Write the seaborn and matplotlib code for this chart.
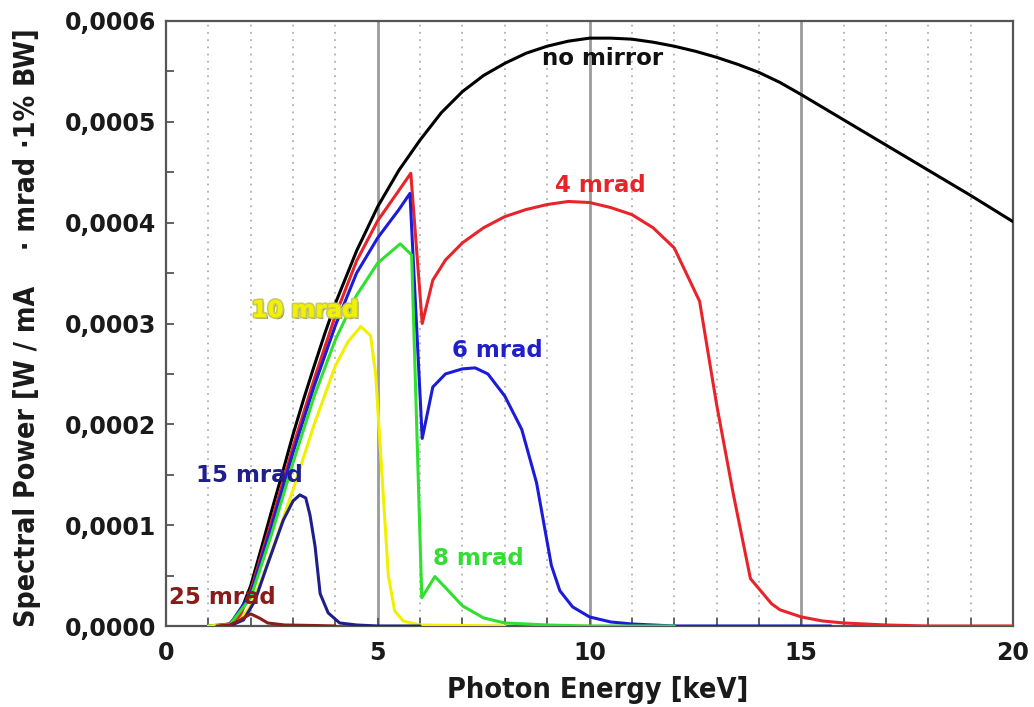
import numpy as np
import pandas as pd
import matplotlib
matplotlib.use("Agg")
import matplotlib.pyplot as plt
import matplotlib.patheffects as pe
from matplotlib.ticker import FuncFormatter, MultipleLocator
import seaborn as sns

# ---------------- data ----------------
E_nomirror = [1.0, 1.25, 1.5, 1.75, 2.0, 2.25, 2.5, 2.75, 3.0, 3.25, 3.5, 3.75, 4.0, 4.5, 5.0, 5.5,
              6.0, 6.5, 7.0, 7.5, 8.0, 8.5, 9.0, 9.5, 10.0, 10.5, 11.0, 11.5, 12.0, 12.5, 13.0, 13.5,
              14.0, 14.5, 15.0, 16.0, 17.0, 18.0, 19.0, 20.0]
P_nomirror = [0.0, 0.0000005, 0.000002, 0.000013, 0.000040, 0.000077, 0.000115, 0.000152, 0.000190,
              0.000225, 0.000258, 0.000290, 0.000320, 0.000372, 0.000416, 0.000452,
              0.000482, 0.000509, 0.000530, 0.000546, 0.000558, 0.000568, 0.000575, 0.000580, 0.000583,
              0.000583, 0.000582, 0.000579, 0.000575, 0.000570, 0.000564, 0.000557,
              0.000549, 0.000539, 0.000527, 0.000502, 0.000477, 0.000452, 0.000427, 0.000401]

E_4mrad = [1.0, 1.5, 1.75, 2.0, 2.5, 3.0, 3.5, 4.0, 4.5, 5.0, 5.5, 5.78, 6.05, 6.3, 6.6, 7.0, 7.5, 8.0,
           8.5, 9.0, 9.5, 10.0, 10.5, 11.0, 11.5, 12.0, 12.6, 13.0, 13.4, 13.8, 14.3, 14.5, 15.0, 15.5,
           16.0, 17.0, 18.0, 20.0]
P_4mrad = [0.0, 0.000002, 0.000010, 0.000035, 0.000105, 0.000178, 0.000245, 0.000308, 0.000362, 0.000402,
           0.000432, 0.000449, 0.000300, 0.000343, 0.000363, 0.000380, 0.000395, 0.000406,
           0.000413, 0.000418, 0.000421, 0.000420, 0.000415, 0.000408, 0.000395, 0.000375, 0.000322,
           0.000220, 0.000130, 0.000047, 0.000022, 0.000016, 0.000009, 0.000005,
           0.000003, 0.000001, 0.0, 0.0]

E_6mrad = [1.0, 1.5, 2.0, 2.5, 3.0, 3.5, 4.0, 4.5, 5.0, 5.5, 5.76, 6.05, 6.3, 6.6, 7.0, 7.3, 7.6, 8.0,
           8.4, 8.75, 9.1, 9.3, 9.6, 10.0, 10.5, 11.0, 11.5, 12.0, 15.7]
P_6mrad = [0.0, 0.000001, 0.000032, 0.000100, 0.000172, 0.000238, 0.000298, 0.000350, 0.000385, 0.000413,
           0.000429, 0.000186, 0.000237, 0.000250, 0.000255, 0.000256, 0.000250, 0.000228,
           0.000195, 0.000142, 0.000060, 0.000035, 0.000019, 0.000009, 0.000004, 0.000002, 0.000001,
           0.0, 0.0]

E_8mrad = [1.0, 1.5, 2.0, 2.5, 3.0, 3.5, 4.0, 4.5, 5.0, 5.53, 5.8, 6.04, 6.35, 6.6, 7.0, 7.5, 8.0, 9.0,
           10.0, 12.0]
P_8mrad = [0.0, 0.000001, 0.000028, 0.000092, 0.000162, 0.000228, 0.000284, 0.000328, 0.000360, 0.000379,
           0.000368, 0.000028, 0.000049, 0.000038, 0.000020, 0.000008, 0.000003, 0.000001, 0.0, 0.0]

E_10mrad = [1.0, 1.5, 1.75, 2.0, 2.25, 2.5, 3.0, 3.5, 4.0, 4.3, 4.6, 4.83, 4.95, 5.1, 5.25, 5.4, 5.6,
            6.0, 8.0]
P_10mrad = [0.0, 0.000001, 0.000006, 0.000020, 0.000045, 0.000074, 0.000135, 0.000200, 0.000258, 0.000282,
            0.000297, 0.000288, 0.000250, 0.000150, 0.000050, 0.000015, 0.000005, 0.000001, 0.0]

E_15mrad = [1.5, 1.83, 2.1, 2.38, 2.77, 3.0, 3.16, 3.3, 3.4, 3.52, 3.64, 3.83, 4.1, 4.5, 5.0, 6.0]
P_15mrad = [0.0, 0.000006, 0.000025, 0.000059, 0.000105, 0.000124, 0.000130, 0.000127, 0.000110,
            0.000079, 0.000032, 0.000013, 0.000003, 0.000001, 0.0, 0.0]

E_25mrad = [1.2, 1.5, 1.75, 2.0, 2.2, 2.4, 2.8, 3.5, 4.0]
P_25mrad = [0.0, 0.000001, 0.000006, 0.000012, 0.000008, 0.000003, 0.000001, 0.0000005, 0.0]

series_names = ["no mirror", "4 mrad", "6 mrad", "8 mrad", "10 mrad", "15 mrad", "25 mrad"]
series_E = [E_nomirror, E_4mrad, E_6mrad, E_8mrad, E_10mrad, E_15mrad, E_25mrad]
series_P = [P_nomirror, P_4mrad, P_6mrad, P_8mrad, P_10mrad, P_15mrad, P_25mrad]
line_colors = ["#000000", "#e8242a", "#1c1cd8", "#2fe02f", "#f0f000", "#1f1f8c", "#8c1c1c"]

# label positions (data coords) and colours
label_E = [10.32, 10.25, 7.82, 7.37, 3.28, 1.98, 1.32]
label_P = [0.000563, 0.000437, 0.000273, 0.0000674, 0.000313, 0.000149, 0.0000278]
label_colors = ["#111111", "#e8242a", "#2020c8", "#33dd33", "#f2f200", "#1f1f8c", "#8b1a1a"]

x_ticks = [0, 5, 10, 15, 20]
y_ticks = [0.0, 0.0001, 0.0002, 0.0003, 0.0004, 0.0005, 0.0006]

# ---------------- figure ----------------
sns.set_theme(style="white")
plt.rcParams["font.family"] = ["DejaVu Sans"]

fig = plt.figure(figsize=(10.34, 7.07), dpi=100)
ax = fig.add_axes([166 / 1034, 1 - 626 / 707, 847 / 1034, 605 / 707])

# grid lines: dotted every keV, solid at 5,10,15
for xv in range(1, 20):
    if xv % 5 == 0:
        ax.axvline(xv, color="#9a9a9a", lw=2.0, zorder=0.5)
    else:
        ax.axvline(xv, color="#b0b0b0", lw=1.3, ls=(0, (1, 3)), zorder=0.5)

frames = []
for name, es, ps in zip(series_names, series_E, series_P):
    frames.append(pd.DataFrame({"E": es, "P": ps, "series": name}))
df = pd.concat(frames, ignore_index=True)

sns.lineplot(data=df, x="E", y="P", hue="series", hue_order=series_names,
             palette=dict(zip(series_names, line_colors)), estimator=None, sort=False,
             lw=2.2, ax=ax, legend=False, zorder=3)

for name, xe, yp, c in zip(series_names, label_E, label_P, label_colors):
    t = ax.text(xe, yp, name, color=c, fontsize=16.5, fontweight="bold",
                ha="center", va="center", zorder=5)
    if name == "10 mrad":
        t.set_path_effects([pe.withSimplePatchShadow(offset=(1.5, -1.5), shadow_rgbFace="#6a6a20", alpha=0.7),
                            pe.withStroke(linewidth=2.5, foreground="#c8c860"), pe.Normal()])
    if name == "no mirror":
        t.set_fontweight("semibold")

ax.set_xlim(0, 20)
ax.set_ylim(0, 0.0006)
ax.set_xticks(x_ticks)
ax.set_yticks(y_ticks)
ax.xaxis.set_minor_locator(MultipleLocator(1))
ax.yaxis.set_minor_locator(MultipleLocator(0.00005))
ax.yaxis.set_major_formatter(FuncFormatter(lambda v, p: f"{v:.4f}".replace(".", ",")))
ax.xaxis.set_major_formatter(FuncFormatter(lambda v, p: f"{v:g}"))

ax.tick_params(axis="both", which="both", direction="in", length=6, width=1.3, color="#555555",
               bottom=True, left=True, top=False, right=False)
ax.tick_params(axis="x", which="major", pad=11, labelsize=17)
ax.tick_params(axis="y", which="major", pad=7, labelsize=17)
for lab in ax.get_xticklabels() + ax.get_yticklabels():
    lab.set_fontweight("bold")
    lab.set_color("#1a1a1a")

for s in ax.spines.values():
    s.set_visible(True)
    s.set_color("#555555")
    s.set_linewidth(1.6)

ax.set_xlabel("Photon Energy [keV]", fontsize=20.7, fontweight="bold", color="#1a1a1a",
              fontstretch="condensed", va="center")
ax.xaxis.set_label_coords((598 - 166) / 847, (626 - 690) / 605)
ax.set_ylabel("Spectral Power [W / mA    \u00b7 mrad \u00b71% BW]", fontsize=20.4, fontweight="bold",
              color="#1a1a1a", fontstretch="condensed", va="center", ha="center")
ax.yaxis.set_label_coords((27 - 166) / 847, (626 - 328) / 605)

fig.savefig("out.png", dpi=100, facecolor="white")
